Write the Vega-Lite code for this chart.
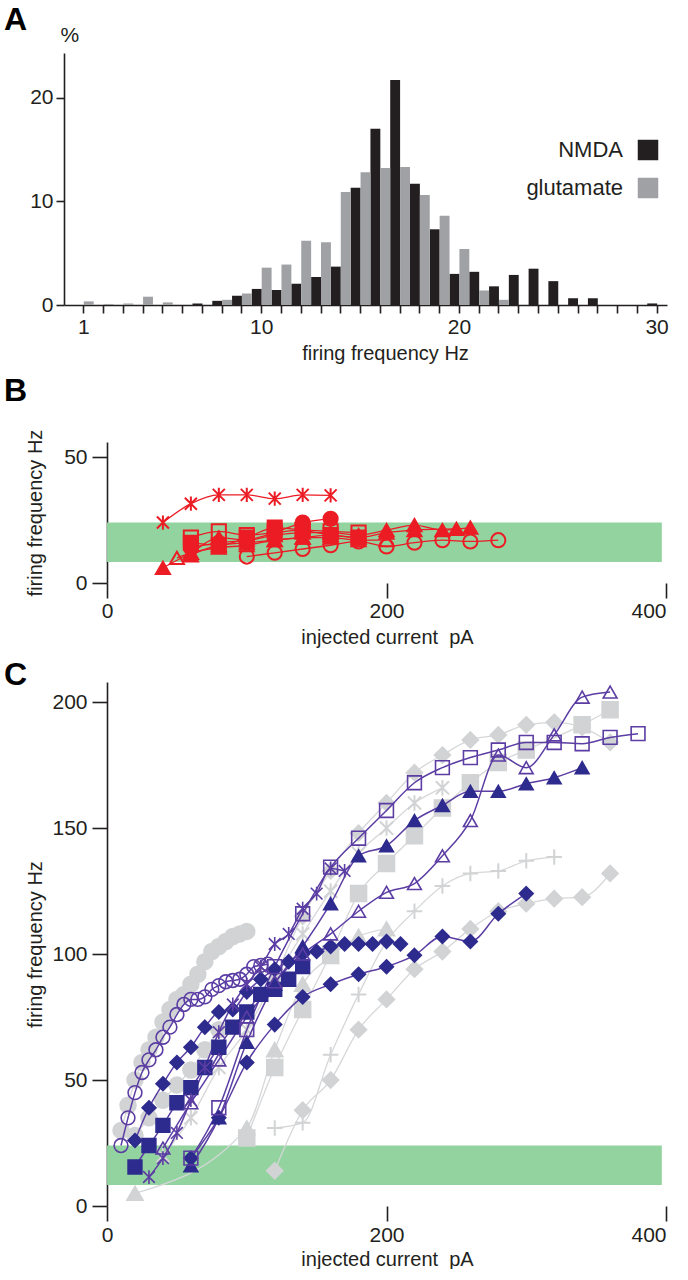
{
  "$schema": "https://vega.github.io/schema/vega-lite/v6.json",
  "background": "white",
  "padding": {"left": 4, "top": 4, "right": 0, "bottom": 0},
  "spacing": 12,
  "config": {
    "font": "Liberation Sans",
    "view": {"stroke": null},
    "axis": {"grid": false, "domainColor": "#231f20", "domainWidth": 1.6, "tickColor": "#231f20", "tickWidth": 1.6, "labelColor": "#231f20", "titleColor": "#231f20", "labelFontSize": 21, "titleFontSize": 20, "titleFontWeight": "normal", "labelFont": "Liberation Sans", "titleFont": "Liberation Sans"},
    "title": {"fontSize": 32, "fontWeight": "bold", "anchor": "start", "frame": "group", "color": "#000000", "font": "Liberation Sans"}
  },
  "resolve": {"scale": {"color": "independent", "shape": "independent", "fill": "independent", "stroke": "independent"}},
  "datasets": {
    "histogram": [
      {"bin": 7, "series": "NMDA", "pct": 0.15}, {"bin": 8, "series": "NMDA", "pct": 0.4}, {"bin": 9, "series": "NMDA", "pct": 0.9},
      {"bin": 10, "series": "NMDA", "pct": 1.55}, {"bin": 11, "series": "NMDA", "pct": 1.45}, {"bin": 12, "series": "NMDA", "pct": 2.05},
      {"bin": 13, "series": "NMDA", "pct": 2.7}, {"bin": 14, "series": "NMDA", "pct": 3.7}, {"bin": 15, "series": "NMDA", "pct": 11.3},
      {"bin": 16, "series": "NMDA", "pct": 17.0}, {"bin": 17, "series": "NMDA", "pct": 21.7}, {"bin": 18, "series": "NMDA", "pct": 11.7},
      {"bin": 19, "series": "NMDA", "pct": 7.3}, {"bin": 20, "series": "NMDA", "pct": 3.0}, {"bin": 21, "series": "NMDA", "pct": 3.2},
      {"bin": 22, "series": "NMDA", "pct": 1.8}, {"bin": 23, "series": "NMDA", "pct": 2.9}, {"bin": 24, "series": "NMDA", "pct": 3.5},
      {"bin": 25, "series": "NMDA", "pct": 2.3}, {"bin": 26, "series": "NMDA", "pct": 0.65}, {"bin": 27, "series": "NMDA", "pct": 0.65},
      {"bin": 30, "series": "NMDA", "pct": 0.15},
      {"bin": 1, "series": "glutamate", "pct": 0.35}, {"bin": 2, "series": "glutamate", "pct": 0.1}, {"bin": 3, "series": "glutamate", "pct": 0.15},
      {"bin": 4, "series": "glutamate", "pct": 0.8}, {"bin": 5, "series": "glutamate", "pct": 0.25}, {"bin": 8, "series": "glutamate", "pct": 0.5},
      {"bin": 9, "series": "glutamate", "pct": 1.1}, {"bin": 10, "series": "glutamate", "pct": 3.6}, {"bin": 11, "series": "glutamate", "pct": 3.9},
      {"bin": 12, "series": "glutamate", "pct": 6.2}, {"bin": 13, "series": "glutamate", "pct": 6.05}, {"bin": 14, "series": "glutamate", "pct": 10.9},
      {"bin": 15, "series": "glutamate", "pct": 12.8}, {"bin": 16, "series": "glutamate", "pct": 13.2}, {"bin": 17, "series": "glutamate", "pct": 13.3},
      {"bin": 18, "series": "glutamate", "pct": 10.6}, {"bin": 19, "series": "glutamate", "pct": 8.6}, {"bin": 20, "series": "glutamate", "pct": 5.4},
      {"bin": 21, "series": "glutamate", "pct": 1.4}, {"bin": 22, "series": "glutamate", "pct": 0.5}
    ],
    "band": [{"from": 0, "to": 397, "low": 8.3, "high": 24}],
    "redCells": [
      {"series": "B-ast", "current": 40, "freq": 24}, {"series": "B-ast", "current": 60, "freq": 31.5}, {"series": "B-ast", "current": 80, "freq": 35},
      {"series": "B-ast", "current": 100, "freq": 35}, {"series": "B-ast", "current": 120, "freq": 33.5}, {"series": "B-ast", "current": 140, "freq": 35},
      {"series": "B-ast", "current": 160, "freq": 34.8},
      {"series": "B-tri1", "current": 40, "freq": 6}, {"series": "B-tri1", "current": 60, "freq": 12}, {"series": "B-tri1", "current": 80, "freq": 18},
      {"series": "B-tri1", "current": 100, "freq": 17}, {"series": "B-tri1", "current": 120, "freq": 19}, {"series": "B-tri1", "current": 140, "freq": 20},
      {"series": "B-tri1", "current": 160, "freq": 20}, {"series": "B-tri1", "current": 180, "freq": 19}, {"series": "B-tri1", "current": 200, "freq": 21},
      {"series": "B-tri1", "current": 220, "freq": 23}, {"series": "B-tri1", "current": 240, "freq": 21}, {"series": "B-tri1", "current": 260, "freq": 22},
      {"series": "B-tri2", "current": 60, "freq": 11}, {"series": "B-tri2", "current": 80, "freq": 15}, {"series": "B-tri2", "current": 100, "freq": 16},
      {"series": "B-tri2", "current": 120, "freq": 17}, {"series": "B-tri2", "current": 140, "freq": 18}, {"series": "B-tri2", "current": 160, "freq": 19},
      {"series": "B-tri2", "current": 180, "freq": 18}, {"series": "B-tri2", "current": 200, "freq": 20}, {"series": "B-tri2", "current": 220, "freq": 21},
      {"series": "B-tri2", "current": 250, "freq": 21.5},
      {"series": "B-otri", "current": 50, "freq": 10}, {"series": "B-otri", "current": 60, "freq": 12}, {"series": "B-otri", "current": 80, "freq": 14},
      {"series": "B-otri", "current": 100, "freq": 15}, {"series": "B-otri", "current": 120, "freq": 17}, {"series": "B-otri", "current": 140, "freq": 18},
      {"series": "B-otri", "current": 160, "freq": 18}, {"series": "B-otri", "current": 180, "freq": 17}, {"series": "B-otri", "current": 200, "freq": 17},
      {"series": "B-ocirc", "current": 100, "freq": 10.5}, {"series": "B-ocirc", "current": 120, "freq": 12}, {"series": "B-ocirc", "current": 140, "freq": 13.5},
      {"series": "B-ocirc", "current": 160, "freq": 15}, {"series": "B-ocirc", "current": 180, "freq": 16.5}, {"series": "B-ocirc", "current": 200, "freq": 14.5},
      {"series": "B-ocirc", "current": 220, "freq": 16}, {"series": "B-ocirc", "current": 240, "freq": 17}, {"series": "B-ocirc", "current": 260, "freq": 16.5},
      {"series": "B-ocirc", "current": 280, "freq": 17},
      {"series": "B-circ", "current": 60, "freq": 14}, {"series": "B-circ", "current": 80, "freq": 16}, {"series": "B-circ", "current": 100, "freq": 17},
      {"series": "B-circ", "current": 120, "freq": 20}, {"series": "B-circ", "current": 140, "freq": 24}, {"series": "B-circ", "current": 160, "freq": 25.5},
      {"series": "B-osq", "current": 60, "freq": 18}, {"series": "B-osq", "current": 80, "freq": 20.5}, {"series": "B-osq", "current": 100, "freq": 19},
      {"series": "B-osq", "current": 120, "freq": 20}, {"series": "B-osq", "current": 140, "freq": 21}, {"series": "B-osq", "current": 160, "freq": 20.5},
      {"series": "B-osq", "current": 180, "freq": 20},
      {"series": "B-sq", "current": 60, "freq": 16}, {"series": "B-sq", "current": 80, "freq": 15}, {"series": "B-sq", "current": 100, "freq": 18},
      {"series": "B-sq", "current": 120, "freq": 22}, {"series": "B-sq", "current": 140, "freq": 21}, {"series": "B-sq", "current": 160, "freq": 19},
      {"series": "B-sq", "current": 180, "freq": 18}
    ],
    "grayCells": [
      {"series": "g_circ", "current": 10, "freq": 30}, {"series": "g_circ", "current": 15, "freq": 40}, {"series": "g_circ", "current": 20, "freq": 50},
      {"series": "g_circ", "current": 25, "freq": 57}, {"series": "g_circ", "current": 30, "freq": 62}, {"series": "g_circ", "current": 35, "freq": 67},
      {"series": "g_circ", "current": 40, "freq": 73}, {"series": "g_circ", "current": 45, "freq": 78}, {"series": "g_circ", "current": 50, "freq": 82},
      {"series": "g_circ", "current": 55, "freq": 84}, {"series": "g_circ", "current": 60, "freq": 88}, {"series": "g_circ", "current": 65, "freq": 92},
      {"series": "g_circ", "current": 70, "freq": 97}, {"series": "g_circ", "current": 75, "freq": 101}, {"series": "g_circ", "current": 80, "freq": 103},
      {"series": "g_circ", "current": 85, "freq": 105}, {"series": "g_circ", "current": 90, "freq": 107}, {"series": "g_circ", "current": 95, "freq": 108},
      {"series": "g_circ", "current": 100, "freq": 109},
      {"series": "g_circ2", "current": 20, "freq": 28}, {"series": "g_circ2", "current": 30, "freq": 35}, {"series": "g_circ2", "current": 40, "freq": 42},
      {"series": "g_circ2", "current": 50, "freq": 48}, {"series": "g_circ2", "current": 60, "freq": 54}, {"series": "g_circ2", "current": 70, "freq": 62},
      {"series": "g_circ2", "current": 80, "freq": 70},
      {"series": "g_diam1", "current": 120, "freq": 90}, {"series": "g_diam1", "current": 140, "freq": 115}, {"series": "g_diam1", "current": 160, "freq": 133},
      {"series": "g_diam1", "current": 180, "freq": 148}, {"series": "g_diam1", "current": 200, "freq": 160}, {"series": "g_diam1", "current": 220, "freq": 172},
      {"series": "g_diam1", "current": 240, "freq": 179}, {"series": "g_diam1", "current": 260, "freq": 185}, {"series": "g_diam1", "current": 280, "freq": 187},
      {"series": "g_diam1", "current": 300, "freq": 191}, {"series": "g_diam1", "current": 320, "freq": 192}, {"series": "g_diam1", "current": 340, "freq": 190},
      {"series": "g_diam1", "current": 360, "freq": 184},
      {"series": "g_sq", "current": 100, "freq": 27}, {"series": "g_sq", "current": 120, "freq": 55}, {"series": "g_sq", "current": 140, "freq": 78},
      {"series": "g_sq", "current": 160, "freq": 100}, {"series": "g_sq", "current": 180, "freq": 124}, {"series": "g_sq", "current": 200, "freq": 136},
      {"series": "g_sq", "current": 220, "freq": 147}, {"series": "g_sq", "current": 240, "freq": 158}, {"series": "g_sq", "current": 260, "freq": 168},
      {"series": "g_sq", "current": 280, "freq": 176}, {"series": "g_sq", "current": 300, "freq": 181}, {"series": "g_sq", "current": 340, "freq": 191},
      {"series": "g_sq", "current": 360, "freq": 197},
      {"series": "g_tri", "current": 20, "freq": 5}, {"series": "g_tri", "current": 100, "freq": 31}, {"series": "g_tri", "current": 120, "freq": 62},
      {"series": "g_tri", "current": 140, "freq": 88}, {"series": "g_tri", "current": 160, "freq": 99}, {"series": "g_tri", "current": 180, "freq": 107},
      {"series": "g_tri", "current": 200, "freq": 110},
      {"series": "g_plus", "current": 120, "freq": 31}, {"series": "g_plus", "current": 140, "freq": 33}, {"series": "g_plus", "current": 160, "freq": 60},
      {"series": "g_plus", "current": 180, "freq": 84}, {"series": "g_plus", "current": 200, "freq": 105}, {"series": "g_plus", "current": 220, "freq": 117},
      {"series": "g_plus", "current": 240, "freq": 127}, {"series": "g_plus", "current": 260, "freq": 132}, {"series": "g_plus", "current": 280, "freq": 133},
      {"series": "g_plus", "current": 300, "freq": 137}, {"series": "g_plus", "current": 320, "freq": 138.5},
      {"series": "g_diam2", "current": 120, "freq": 14}, {"series": "g_diam2", "current": 140, "freq": 38}, {"series": "g_diam2", "current": 160, "freq": 50},
      {"series": "g_diam2", "current": 180, "freq": 70}, {"series": "g_diam2", "current": 200, "freq": 82}, {"series": "g_diam2", "current": 220, "freq": 94},
      {"series": "g_diam2", "current": 240, "freq": 101}, {"series": "g_diam2", "current": 260, "freq": 110}, {"series": "g_diam2", "current": 280, "freq": 117},
      {"series": "g_diam2", "current": 300, "freq": 120}, {"series": "g_diam2", "current": 320, "freq": 122}, {"series": "g_diam2", "current": 340, "freq": 122.6},
      {"series": "g_diam2", "current": 360, "freq": 132},
      {"series": "g_ast", "current": 40, "freq": 20}, {"series": "g_ast", "current": 60, "freq": 35}, {"series": "g_ast", "current": 80, "freq": 55},
      {"series": "g_ast", "current": 100, "freq": 70}, {"series": "g_ast", "current": 120, "freq": 90}, {"series": "g_ast", "current": 140, "freq": 108},
      {"series": "g_ast", "current": 160, "freq": 125}, {"series": "g_ast", "current": 180, "freq": 140}, {"series": "g_ast", "current": 200, "freq": 150},
      {"series": "g_ast", "current": 220, "freq": 160}, {"series": "g_ast", "current": 240, "freq": 166}
    ],
    "purpleCells": [
      {"series": "p_ocirc", "current": 10, "freq": 24}, {"series": "p_ocirc", "current": 15, "freq": 35}, {"series": "p_ocirc", "current": 20, "freq": 45},
      {"series": "p_ocirc", "current": 25, "freq": 53}, {"series": "p_ocirc", "current": 30, "freq": 58}, {"series": "p_ocirc", "current": 35, "freq": 62},
      {"series": "p_ocirc", "current": 40, "freq": 67}, {"series": "p_ocirc", "current": 45, "freq": 71}, {"series": "p_ocirc", "current": 50, "freq": 76},
      {"series": "p_ocirc", "current": 55, "freq": 80}, {"series": "p_ocirc", "current": 60, "freq": 82}, {"series": "p_ocirc", "current": 65, "freq": 82},
      {"series": "p_ocirc", "current": 70, "freq": 83}, {"series": "p_ocirc", "current": 75, "freq": 86}, {"series": "p_ocirc", "current": 80, "freq": 87.5},
      {"series": "p_ocirc", "current": 85, "freq": 89}, {"series": "p_ocirc", "current": 90, "freq": 89.5}, {"series": "p_ocirc", "current": 95, "freq": 90},
      {"series": "p_ocirc", "current": 100, "freq": 92}, {"series": "p_ocirc", "current": 105, "freq": 95}, {"series": "p_ocirc", "current": 110, "freq": 95.5},
      {"series": "p_ocirc", "current": 115, "freq": 96},
      {"series": "p_diam1", "current": 20, "freq": 26}, {"series": "p_diam1", "current": 30, "freq": 39}, {"series": "p_diam1", "current": 40, "freq": 48.5},
      {"series": "p_diam1", "current": 50, "freq": 57}, {"series": "p_diam1", "current": 60, "freq": 63}, {"series": "p_diam1", "current": 70, "freq": 71},
      {"series": "p_diam1", "current": 80, "freq": 77}, {"series": "p_diam1", "current": 90, "freq": 78}, {"series": "p_diam1", "current": 100, "freq": 85},
      {"series": "p_diam1", "current": 110, "freq": 90}, {"series": "p_diam1", "current": 120, "freq": 94}, {"series": "p_diam1", "current": 130, "freq": 97},
      {"series": "p_diam1", "current": 140, "freq": 100}, {"series": "p_diam1", "current": 150, "freq": 101}, {"series": "p_diam1", "current": 160, "freq": 103},
      {"series": "p_diam1", "current": 170, "freq": 104}, {"series": "p_diam1", "current": 180, "freq": 104}, {"series": "p_diam1", "current": 190, "freq": 104},
      {"series": "p_diam1", "current": 200, "freq": 105}, {"series": "p_diam1", "current": 210, "freq": 104},
      {"series": "p_diam2", "current": 60, "freq": 19}, {"series": "p_diam2", "current": 80, "freq": 35}, {"series": "p_diam2", "current": 100, "freq": 57},
      {"series": "p_diam2", "current": 120, "freq": 72}, {"series": "p_diam2", "current": 140, "freq": 83}, {"series": "p_diam2", "current": 160, "freq": 88},
      {"series": "p_diam2", "current": 180, "freq": 92}, {"series": "p_diam2", "current": 200, "freq": 95}, {"series": "p_diam2", "current": 220, "freq": 99.5},
      {"series": "p_diam2", "current": 240, "freq": 107}, {"series": "p_diam2", "current": 260, "freq": 105}, {"series": "p_diam2", "current": 280, "freq": 116},
      {"series": "p_diam2", "current": 300, "freq": 124},
      {"series": "p_sq", "current": 20, "freq": 15.5}, {"series": "p_sq", "current": 30, "freq": 24}, {"series": "p_sq", "current": 40, "freq": 32},
      {"series": "p_sq", "current": 50, "freq": 41}, {"series": "p_sq", "current": 60, "freq": 47}, {"series": "p_sq", "current": 70, "freq": 55},
      {"series": "p_sq", "current": 80, "freq": 63}, {"series": "p_sq", "current": 90, "freq": 71}, {"series": "p_sq", "current": 100, "freq": 77},
      {"series": "p_sq", "current": 110, "freq": 84}, {"series": "p_sq", "current": 120, "freq": 86}, {"series": "p_sq", "current": 130, "freq": 90},
      {"series": "p_sq", "current": 140, "freq": 95},
      {"series": "p_tri", "current": 60, "freq": 16}, {"series": "p_tri", "current": 80, "freq": 35}, {"series": "p_tri", "current": 100, "freq": 65},
      {"series": "p_tri", "current": 120, "freq": 88}, {"series": "p_tri", "current": 140, "freq": 103}, {"series": "p_tri", "current": 160, "freq": 120},
      {"series": "p_tri", "current": 180, "freq": 139}, {"series": "p_tri", "current": 200, "freq": 143}, {"series": "p_tri", "current": 220, "freq": 153},
      {"series": "p_tri", "current": 240, "freq": 159}, {"series": "p_tri", "current": 260, "freq": 164.6}, {"series": "p_tri", "current": 280, "freq": 164.6},
      {"series": "p_tri", "current": 300, "freq": 167.6}, {"series": "p_tri", "current": 320, "freq": 170}, {"series": "p_tri", "current": 340, "freq": 174},
      {"series": "p_osq", "current": 60, "freq": 19}, {"series": "p_osq", "current": 80, "freq": 39}, {"series": "p_osq", "current": 100, "freq": 70},
      {"series": "p_osq", "current": 120, "freq": 95}, {"series": "p_osq", "current": 140, "freq": 116}, {"series": "p_osq", "current": 160, "freq": 134.5},
      {"series": "p_osq", "current": 180, "freq": 146}, {"series": "p_osq", "current": 200, "freq": 157}, {"series": "p_osq", "current": 220, "freq": 168},
      {"series": "p_osq", "current": 240, "freq": 174}, {"series": "p_osq", "current": 260, "freq": 178}, {"series": "p_osq", "current": 280, "freq": 181},
      {"series": "p_osq", "current": 300, "freq": 184}, {"series": "p_osq", "current": 320, "freq": 184}, {"series": "p_osq", "current": 340, "freq": 183.5},
      {"series": "p_osq", "current": 360, "freq": 186}, {"series": "p_osq", "current": 380, "freq": 187.5},
      {"series": "p_ast", "current": 30, "freq": 11.5}, {"series": "p_ast", "current": 40, "freq": 19}, {"series": "p_ast", "current": 50, "freq": 29},
      {"series": "p_ast", "current": 60, "freq": 42}, {"series": "p_ast", "current": 70, "freq": 55}, {"series": "p_ast", "current": 80, "freq": 69},
      {"series": "p_ast", "current": 90, "freq": 80}, {"series": "p_ast", "current": 100, "freq": 88}, {"series": "p_ast", "current": 110, "freq": 95},
      {"series": "p_ast", "current": 120, "freq": 104}, {"series": "p_ast", "current": 130, "freq": 108}, {"series": "p_ast", "current": 140, "freq": 118},
      {"series": "p_ast", "current": 150, "freq": 124}, {"series": "p_ast", "current": 160, "freq": 134}, {"series": "p_ast", "current": 170, "freq": 133},
      {"series": "p_otri", "current": 40, "freq": 23}, {"series": "p_otri", "current": 60, "freq": 41}, {"series": "p_otri", "current": 80, "freq": 58},
      {"series": "p_otri", "current": 100, "freq": 75}, {"series": "p_otri", "current": 120, "freq": 89}, {"series": "p_otri", "current": 140, "freq": 100},
      {"series": "p_otri", "current": 160, "freq": 108}, {"series": "p_otri", "current": 180, "freq": 117}, {"series": "p_otri", "current": 200, "freq": 124.5},
      {"series": "p_otri", "current": 220, "freq": 128}, {"series": "p_otri", "current": 240, "freq": 139}, {"series": "p_otri", "current": 260, "freq": 153},
      {"series": "p_otri", "current": 280, "freq": 179}, {"series": "p_otri", "current": 300, "freq": 174}, {"series": "p_otri", "current": 320, "freq": 187},
      {"series": "p_otri", "current": 340, "freq": 202}, {"series": "p_otri", "current": 360, "freq": 204}
    ]
  },
  "vconcat": [
    {
      "width": 603,
      "height": 252,
      "title": {"text": "A", "dx": -60, "offset": -13},
      "data": {"name": "histogram"},
      "mark": {"type": "bar"},
      "encoding": {
        "x": {"field": "bin", "type": "ordinal",
          "scale": {"domain": [1,2,3,4,5,6,7,8,9,10,11,12,13,14,15,16,17,18,19,20,21,22,23,24,25,26,27,28,29,30], "paddingInner": 0, "paddingOuter": 0.25, "align": 1},
          "axis": {"title": "firing frequency Hz", "titleX": 321, "labelAngle": 0, "tickSize": 8, "labelPadding": 3, "titlePadding": 6, "labelOverlap": false,
            "labelExpr": "datum.value == 1 || datum.value == 10 || datum.value == 20 || datum.value == 30 ? datum.label : ''"}},
        "xOffset": {"field": "series", "type": "nominal", "scale": {"domain": ["NMDA", "glutamate"], "paddingInner": 0, "paddingOuter": 0}},
        "y": {"field": "pct", "type": "quantitative", "scale": {"domain": [0, 24.3]},
          "axis": {"values": [0, 10, 20], "tickSize": 8, "labelPadding": 3, "title": "%", "titleAngle": 0, "titleAlign": "left", "titleBaseline": "alphabetic", "titleX": -4, "titleY": -12, "titleFontSize": 21}},
        "color": {"field": "series", "type": "nominal", "scale": {"domain": ["NMDA", "glutamate"], "range": ["#231f20", "#9fa1a4"]},
          "legend": {"orient": "none", "legendX": 573, "legendY": 86, "title": null, "symbolType": "square", "symbolSize": 420, "symbolStrokeWidth": 0, "symbolOpacity": 1, "labelFontSize": 22, "labelColor": "#231f20", "labelAlign": "right", "labelOffset": -36, "rowPadding": 16, "labelFont": "Liberation Sans"}}
      }
    },
    {
      "width": 602,
      "height": 141,
      "title": {"text": "B", "dx": -60, "offset": 21},
      "layer": [
        {
          "data": {"name": "band"},
          "mark": {"type": "rect", "color": "#93d3a0"},
          "encoding": {
            "x": {"field": "from", "type": "quantitative", "scale": {"domain": [-30.8, 400], "nice": false, "zero": false},
              "axis": {"values": [0, 200, 400], "domain": false, "title": "injected current\u00a0 pA", "titleX": 323, "tickSize": 15, "labelPadding": 2, "titlePadding": 6}},
            "x2": {"field": "to"},
            "y": {"field": "low", "type": "quantitative", "scale": {"domain": [0, 56], "nice": false},
              "axis": {"values": [0, 50], "offset": -43, "title": "firing frequency Hz", "tickSize": 15, "labelPadding": 5, "titlePadding": 18}},
            "y2": {"field": "high"}
          }
        },
        {
          "data": {"name": "redCells"},
          "mark": {"type": "line", "interpolate": "monotone", "color": "#ec1c24", "strokeWidth": 1.3},
          "encoding": {
            "x": {"field": "current", "type": "quantitative"},
            "y": {"field": "freq", "type": "quantitative"},
            "detail": {"field": "series", "type": "nominal"}
          }
        },
        {
          "data": {"name": "redCells"},
          "mark": {"type": "point", "size": 200, "strokeWidth": 2, "opacity": 1},
          "encoding": {
            "x": {"field": "current", "type": "quantitative"},
            "y": {"field": "freq", "type": "quantitative"},
            "shape": {"field": "series", "type": "nominal", "legend": null,
              "scale": {"domain": ["B-ast", "B-tri1", "B-tri2", "B-otri", "B-ocirc", "B-circ", "B-osq", "B-sq"],
                "range": ["M-0.85,-0.85L0.85,0.85M-0.85,0.85L0.85,-0.85M0,-1L0,1", "triangle-up", "triangle-up", "triangle-up", "circle", "circle", "square", "square"]}},
            "fill": {"field": "series", "type": "nominal", "legend": null,
              "scale": {"domain": ["B-ast", "B-tri1", "B-tri2", "B-otri", "B-ocirc", "B-circ", "B-osq", "B-sq"],
                "range": ["transparent", "#ec1c24", "#ec1c24", "transparent", "transparent", "#ec1c24", "transparent", "#ec1c24"]}},
            "stroke": {"field": "series", "type": "nominal", "legend": null,
              "scale": {"domain": ["B-ast", "B-tri1", "B-tri2", "B-otri", "B-ocirc", "B-circ", "B-osq", "B-sq"],
                "range": ["#ec1c24", "#ec1c24", "#ec1c24", "#ec1c24", "#ec1c24", "#ec1c24", "#ec1c24", "#ec1c24"]}}
          }
        },
        {
          "mark": {"type": "rule", "color": "#231f20", "strokeWidth": 1.6},
          "encoding": {
            "x": {"datum": 0, "type": "quantitative"},
            "x2": {"datum": 400},
            "y": {"datum": 0, "type": "quantitative"}
          }
        }
      ]
    },
    {
      "width": 602,
      "height": 524,
      "title": {"text": "C", "dx": -60, "offset": -10},
      "layer": [
        {
          "data": {"name": "band"},
          "mark": {"type": "rect", "color": "#93d3a0"},
          "encoding": {
            "x": {"field": "from", "type": "quantitative", "scale": {"domain": [-30.8, 400], "nice": false, "zero": false},
              "axis": {"values": [0, 200, 400], "domain": false, "title": "injected current\u00a0 pA", "titleX": 323, "tickSize": 15, "labelPadding": 3, "titlePadding": 4}},
            "x2": {"field": "to"},
            "y": {"field": "low", "type": "quantitative", "scale": {"domain": [0, 208], "nice": false},
              "axis": {"values": [0, 50, 100, 150, 200], "offset": -43, "title": "firing frequency Hz", "tickSize": 15, "labelPadding": 5, "titlePadding": 6}},
            "y2": {"field": "high"}
          }
        },
        {
          "data": {"name": "grayCells"},
          "mark": {"type": "line", "interpolate": "monotone", "color": "#d6d7d9", "strokeWidth": 1.3},
          "encoding": {
            "x": {"field": "current", "type": "quantitative"},
            "y": {"field": "freq", "type": "quantitative"},
            "detail": {"field": "series", "type": "nominal"}
          }
        },
        {
          "data": {"name": "grayCells"},
          "mark": {"type": "point", "size": 240, "strokeWidth": 2, "opacity": 1},
          "encoding": {
            "x": {"field": "current", "type": "quantitative"},
            "y": {"field": "freq", "type": "quantitative"},
            "shape": {"field": "series", "type": "nominal", "legend": null,
              "scale": {"domain": ["g_circ", "g_circ2", "g_diam1", "g_sq", "g_tri", "g_plus", "g_diam2", "g_ast", "p_ocirc", "p_diam1", "p_diam2", "p_sq", "p_tri", "p_osq", "p_ast", "p_otri"],
                "range": ["circle", "circle", "M0,-1L1,0L0,1L-1,0Z", "square", "triangle-up", "M-1,0L1,0M0,-1L0,1", "M0,-1L1,0L0,1L-1,0Z", "M-0.85,-0.85L0.85,0.85M-0.85,0.85L0.85,-0.85M0,-1L0,1", "circle", "M0,-1L1,0L0,1L-1,0Z", "M0,-1L1,0L0,1L-1,0Z", "square", "triangle-up", "square", "M-0.85,-0.85L0.85,0.85M-0.85,0.85L0.85,-0.85M0,-1L0,1", "triangle-up"]}},
            "fill": {"field": "series", "type": "nominal", "legend": null,
              "scale": {"domain": ["g_circ", "g_circ2", "g_diam1", "g_sq", "g_tri", "g_plus", "g_diam2", "g_ast", "p_ocirc", "p_diam1", "p_diam2", "p_sq", "p_tri", "p_osq", "p_ast", "p_otri"],
                "range": ["#d1d3d4", "#d1d3d4", "#d1d3d4", "#d1d3d4", "#d1d3d4", "transparent", "#d1d3d4", "transparent", "transparent", "#2e2b8e", "#2e2b8e", "#2e2b8e", "#2e2b8e", "transparent", "transparent", "transparent"]}},
            "stroke": {"field": "series", "type": "nominal", "legend": null,
              "scale": {"domain": ["g_circ", "g_circ2", "g_diam1", "g_sq", "g_tri", "g_plus", "g_diam2", "g_ast", "p_ocirc", "p_diam1", "p_diam2", "p_sq", "p_tri", "p_osq", "p_ast", "p_otri"],
                "range": ["#d1d3d4", "#d1d3d4", "#d1d3d4", "#d1d3d4", "#d1d3d4", "#d1d3d4", "#d1d3d4", "#d1d3d4", "#5b3da3", "#2e2b8e", "#2e2b8e", "#2e2b8e", "#2e2b8e", "#5b3da3", "#5b3da3", "#5b3da3"]}}
          }
        },
        {
          "data": {"name": "purpleCells"},
          "mark": {"type": "line", "interpolate": "monotone", "color": "#5b3da3", "strokeWidth": 1.5},
          "encoding": {
            "x": {"field": "current", "type": "quantitative"},
            "y": {"field": "freq", "type": "quantitative"},
            "detail": {"field": "series", "type": "nominal"}
          }
        },
        {
          "data": {"name": "purpleCells"},
          "mark": {"type": "point", "size": 190, "strokeWidth": 1.6, "opacity": 1},
          "encoding": {
            "x": {"field": "current", "type": "quantitative"},
            "y": {"field": "freq", "type": "quantitative"},
            "shape": {"field": "series", "type": "nominal", "legend": null},
            "fill": {"field": "series", "type": "nominal", "legend": null},
            "stroke": {"field": "series", "type": "nominal", "legend": null}
          }
        },
        {
          "mark": {"type": "rule", "color": "#231f20", "strokeWidth": 1.6},
          "encoding": {
            "x": {"datum": 0, "type": "quantitative"},
            "x2": {"datum": 400},
            "y": {"datum": 0, "type": "quantitative"}
          }
        }
      ]
    }
  ]
}
